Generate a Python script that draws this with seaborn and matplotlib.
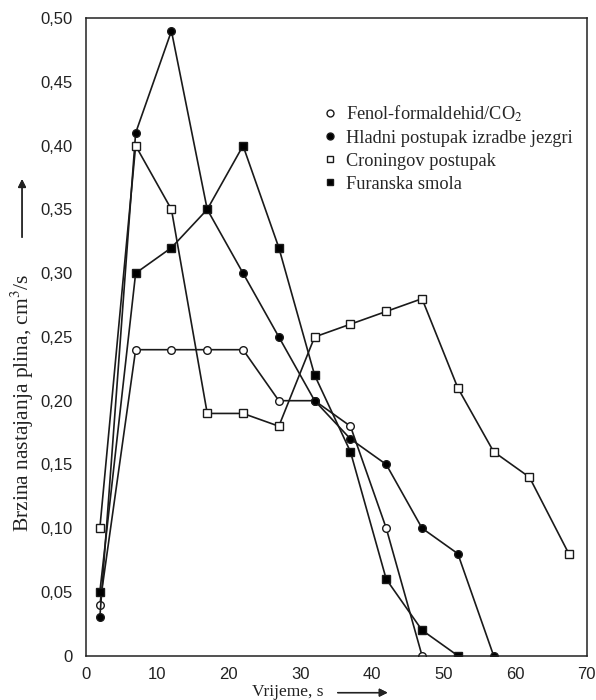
import pandas as pd
import seaborn as sns
import matplotlib.pyplot as plt
from matplotlib.lines import Line2D
from matplotlib.ticker import FuncFormatter

# vrijeme (s) i brzina nastajanja plina (cm3/s) za svaki postupak
fenol_x = [2, 7, 12, 17, 22, 27, 32, 37, 42, 47]
fenol_y = [0.04, 0.24, 0.24, 0.24, 0.24, 0.20, 0.20, 0.18, 0.10, 0.0]

hladni_x = [2, 7, 12, 17, 22, 27, 32, 37, 42, 47, 52, 57]
hladni_y = [0.03, 0.41, 0.49, 0.35, 0.30, 0.25, 0.20, 0.17, 0.15, 0.10, 0.08, 0.0]

croning_x = [2, 7, 12, 17, 22, 27, 32, 37, 42, 47, 52, 57, 62, 67.5]
croning_y = [0.10, 0.40, 0.35, 0.19, 0.19, 0.18, 0.25, 0.26, 0.27, 0.28, 0.21, 0.16, 0.14, 0.08]

furan_x = [2, 7, 12, 17, 22, 27, 32, 37, 42, 47, 52]
furan_y = [0.05, 0.30, 0.32, 0.35, 0.40, 0.32, 0.22, 0.16, 0.06, 0.02, 0.0]

labels = ["Fenol-formaldehid/CO$_2$", "Hladni postupak izradbe jezgri",
          "Croningov postupak", "Furanska smola"]
x_ticks = [0, 10, 20, 30, 40, 50, 60, 70]
y_ticks = [0, 0.05, 0.10, 0.15, 0.20, 0.25, 0.30, 0.35, 0.40, 0.45, 0.50]

sns.set_theme(style="white")
plt.rcParams['font.family'] = ['Liberation Serif', 'DejaVu Serif']
plt.rcParams['mathtext.fontset'] = 'stix'

fig = plt.figure(figsize=(5.96, 7.0), dpi=100)
ax = fig.add_axes([0.1435, 0.0633, 0.8409, 0.9107])

series = [
    (fenol_x, fenol_y, 'o', 'white'),
    (hladni_x, hladni_y, 'o', 'black'),
    (croning_x, croning_y, 's', 'white'),
    (furan_x, furan_y, 's', 'black'),
]
for xs, ys, m, fc in series:
    df = pd.DataFrame({'t': xs, 'v': ys})
    sns.lineplot(data=df, x='t', y='v', ax=ax, color='#1a1a1a', linewidth=1.2,
                 marker=m, markersize=5.5, markerfacecolor=fc,
                 markeredgecolor='#1a1a1a', markeredgewidth=1.0, sort=False)

ax.set_xlim(0, 70)
ax.set_ylim(0, 0.50)
ax.set_xticks(x_ticks)
ax.set_yticks(y_ticks)
ax.yaxis.set_major_formatter(FuncFormatter(lambda v, p: "0" if v == 0 else f"{v:.2f}".replace('.', ',')))
ax.xaxis.set_major_formatter(FuncFormatter(lambda v, p: f"{int(v)}"))
ax.tick_params(axis='x', direction='in', length=10, width=1.0, pad=8, colors='#222222')
ax.tick_params(axis='y', direction='in', length=6, width=1.0, pad=9, colors='#222222')
for lab in ax.get_xticklabels() + ax.get_yticklabels():
    lab.set_family(['Liberation Sans', 'DejaVu Sans'])
    lab.set_fontsize(12)
    lab.set_color('#222222')
for s in ax.spines.values():
    s.set_color('#222222')
    s.set_linewidth(1.1)
ax.set_xlabel("")
ax.set_ylabel("")

handles = []
for xs, ys, m, fc in series:
    handles.append(Line2D([], [], linestyle='none', marker=m, markersize=5,
                          markerfacecolor=fc, markeredgecolor='#1a1a1a', markeredgewidth=1.0))
ax.legend(handles, labels, loc='upper left', bbox_to_anchor=(0.463, 0.878),
          frameon=False, fontsize=13.2, handlelength=0.6, handletextpad=0.55,
          labelspacing=0.33, borderaxespad=0)

# oznake osi sa strelicama
fig.text(0.037, 0.425, "Brzina nastajanja plina, cm$^3$/s", rotation=90,
         ha='center', va='center', fontsize=15.5, color='#222222')
fig.add_artist(plt.annotate("", xy=(0.037, 0.748), xytext=(0.037, 0.657),
                            xycoords='figure fraction',
                            arrowprops=dict(arrowstyle='-|>', color='#222222', lw=1.0)))
fig.text(0.482, 0.006, "Vrijeme, s", ha='center', va='baseline', fontsize=12.5, color='#222222')
fig.add_artist(plt.annotate("", xy=(0.655, 0.0105), xytext=(0.562, 0.0105),
                            xycoords='figure fraction',
                            arrowprops=dict(arrowstyle='-|>', color='#222222', lw=1.0)))

plt.savefig("out.png", dpi=100)
plt.close()
